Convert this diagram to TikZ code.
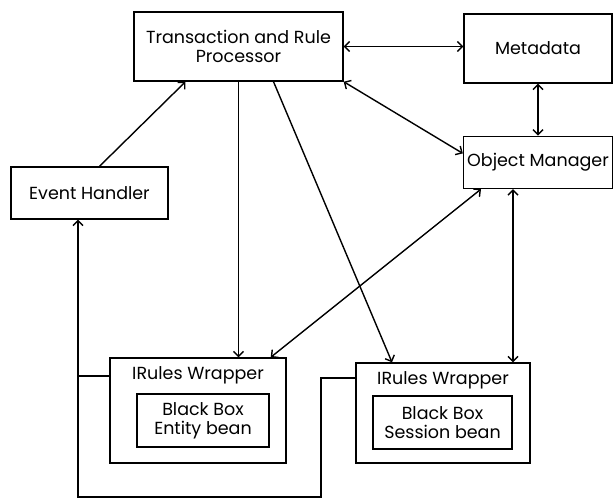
\documentclass[tikz,border=0pt]{standalone}
\usepackage{fontspec}
\setmainfont{Poppins}
\usetikzlibrary{calc}
\usetikzlibrary{positioning}
\usetikzlibrary{arrows.meta}

\begin{document}
\begin{tikzpicture}[x=1pt, y=-1pt, line width=1.4pt,
        every node/.style={draw, font=\fontsize{17.5}{19}\selectfont, align=center, inner sep=0pt},
        link/.style={{Straight Barb[length=5pt,width=10pt]}-{Straight Barb[length=5pt,width=10pt]}},
        tip/.style={-{Straight Barb[length=5pt,width=10pt]}}]
        \useasboundingbox (0,0) rectangle (613,498);

        \node[minimum width=209pt, minimum height=69pt] (trp) at (238.5,46.5) {Transaction and Rule \\ Processor};
        \node[minimum width=148pt, minimum height=69pt] (meta) at (538,48.5) {Metadata};
        \node[minimum width=149pt, minimum height=52pt, below=52pt of meta] (om) {Object Manager};
        \node[minimum width=157pt, minimum height=52pt] (eh) at (89.5,193) {Event Handler};

        \node[minimum width=176pt, minimum height=105pt] (irw1) at (198,410.5) {};
        \node[draw=none, below=9pt of irw1.north] (irw1 title) {IRules Wrapper};
        \node[minimum width=132pt, minimum height=53pt] (bb1) at (203,420.5) {Black Box \\ Entity bean};

        \node[minimum width=174pt, minimum height=100pt] (irw2) at (443,413) {};
        \node[draw=none, below=9pt of irw2.north] (irw2 title) {IRules Wrapper};
        \node[minimum width=139pt, minimum height=53pt] (bb2) at (442.5,422.5) {Black Box \\ Session bean};

        \coordinate (loop se) at (321,497);
        \coordinate (loop sw) at (78,497);

        \draw[tip] ([xshift=10pt]eh.north) -- ([xshift=-53pt]trp.south);
        \draw[link] (trp.east) -- (trp.east -| meta.west);
        \draw[link] (meta.south) -- (om.north);
        \draw[link] (trp.south east) -- ([yshift=9pt]om.west);
        \draw[tip] (trp.south) -- (trp.south |- irw1.north);
        \draw[tip] ([xshift=35pt]trp.south) -- ([xshift=-51pt]irw2.north);
        \draw[link] ([xshift=-16pt]irw1.north east) -- ([xshift=-57pt]om.south);
        \draw[link] ([xshift=70pt]irw2.north) -- ([xshift=70pt]irw2.north |- om.south);

        \draw[tip] ([yshift=35pt]irw2.west) -| (loop se) -- (loop sw) -- (loop sw |- eh.south);
        \draw ([yshift=34.5pt]irw1.west) coordinate (w1) -- (w1 -| loop sw);
    \end{tikzpicture}
\end{document}
